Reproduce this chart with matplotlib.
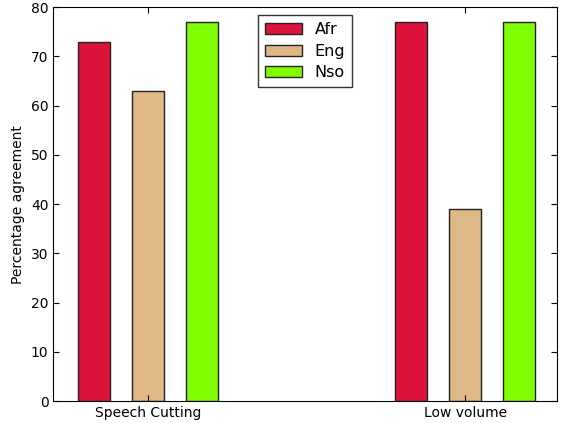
import numpy as np
import matplotlib.pyplot as plt

categories = ['Speech Cutting', 'Low volume']
languages = ['Afr', 'Eng', 'Nso']
afr = [73, 77]
eng = [63, 39]
nso = [77, 77]
colors = ['crimson', 'burlywood', 'chartreuse']

ind = np.arange(len(categories))
width = 0.1
offsets = [-0.17, 0, 0.17]

fig = plt.figure(figsize=(5.62, 4.23), dpi=100)
ax = fig.add_axes([0.095, 0.052, 0.896, 0.931])

for vals, off, col, lab in zip([afr, eng, nso], offsets, colors, languages):
    ax.bar(ind + off, vals, width, color=col, edgecolor='#222222',
           linewidth=1, label=lab)

ax.set_xlim(-0.298, 1.289)
ax.set_ylim(0, 80)
ax.set_xticks(ind)
ax.set_xticklabels(categories)
ax.set_ylabel('Percentage agreement', fontsize=10)
ax.tick_params(direction='in', top=True, right=True, labelsize=10, length=4)

leg = ax.legend(loc='upper center', fancybox=False, fontsize=11.5,
                handlelength=2.3, borderpad=0.45, labelspacing=0.4)
leg.get_frame().set_edgecolor('black')
leg.get_frame().set_linewidth(1)

fig.savefig('out.png', dpi=100)
